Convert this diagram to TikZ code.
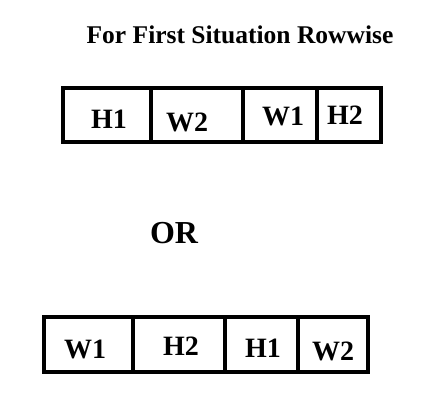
\documentclass[tikz,border=0pt]{standalone}
\usepackage{fontspec}
\setmainfont{Liberation Serif}
\begin{document}
\begin{tikzpicture}[x=1pt,y=-1pt,
  cell/.style={draw=black,line width=3.5pt,inner sep=0pt,minimum height=#1},
  lbl/.style={anchor=base,inner sep=0pt,font=\bfseries\fontsize{28}{32}\selectfont},
  ttl/.style={anchor=base,inner sep=0pt,font=\bfseries\fontsize{25.5}{30}\selectfont}]
\useasboundingbox (0,0) rectangle (433,406);
% title
\node[ttl] (title) at (240,44) {For First Situation Rowwise};
% top row
\node[cell=54pt,minimum width=88pt] (t1) at (107,115) {};
\node[cell=54pt,minimum width=92pt] (t2) at (197,115) {};
\node[cell=54pt,minimum width=74pt] (t3) at (280,115) {};
\node[cell=54pt,minimum width=64pt] (t4) at (349,115) {};
\node[lbl] (lt1) at (109,129) {H1};
\node[lbl] (lt2) at (187,132) {W2};
\node[lbl] (lt3) at (283,126) {W1};
\node[lbl] (lt4) at (345,125) {H2};
% OR
\node[anchor=base,inner sep=0pt,font=\bfseries\fontsize{32}{36}\selectfont] (or) at (174,243) {OR};
% bottom row
\node[cell=55pt,minimum width=89pt] (b1) at (88.5,344.5) {};
\node[cell=55pt,minimum width=92pt] (b2) at (179,344.5) {};
\node[cell=55pt,minimum width=73pt] (b3) at (261.5,344.5) {};
\node[cell=55pt,minimum width=70pt] (b4) at (333,344.5) {};
\node[lbl] (lb1) at (85,358) {W1};
\node[lbl] (lb2) at (181,355) {H2};
\node[lbl] (lb3) at (263,357) {H1};
\node[lbl] (lb4) at (333,360) {W2};
\end{tikzpicture}
\end{document}
